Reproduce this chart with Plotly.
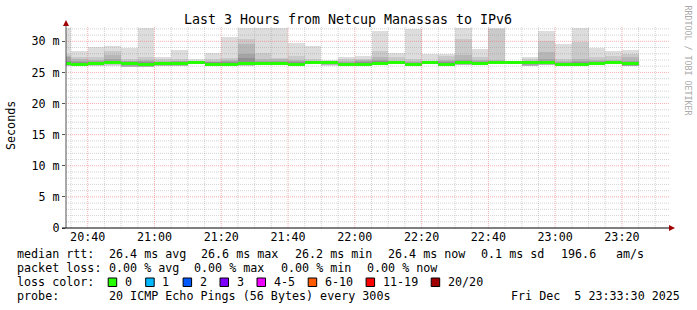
import pandas as pd
import plotly.graph_objects as go

# ---------------- data (ms) ----------------
bin_start = pd.date_range("2025-12-05 20:30:00", periods=35, freq="5min")

median = [26.50, 26.30, 26.40, 26.55, 26.45, 26.30, 26.40, 26.40, 26.60, 26.35,
          26.35, 26.40, 26.50, 26.50, 26.30, 26.55, 26.60, 26.30, 26.35, 26.50,
          26.55, 26.30, 26.55, 26.30, 26.55, 26.45, 26.60, 26.60, 26.55, 26.55,
          26.30, 26.35, 26.45, 26.60, 26.45]
# upper smoke bounds (sorted pings, highest first)
p20 = [32.20, 28.50, 29.10, 29.20, 28.90, 32.10, 27.40, 28.60, 27.20, 28.10,
       30.70, 32.10, 32.10, 32.10, 29.80, 29.30, 27.00, 27.50, 27.65, 31.60,
       28.20, 31.90, 28.00, 28.00, 32.10, 28.70, 32.10, 26.90, 27.55, 31.65,
       29.50, 32.10, 28.90, 28.50, 28.60]
p19 = [28.00, 27.40, 27.40, 28.50, 27.10, 27.40, 27.10, 27.10, 26.90, 27.10,
       27.30, 30.30, 28.10, 27.35, 27.70, 27.20, 26.85, 27.10, 27.20, 28.50,
       27.40, 27.10, 26.90, 27.70, 30.30, 27.40, 32.00, 26.80, 27.20, 30.10,
       27.10, 29.95, 27.40, 27.60, 28.00]
p18 = [27.60, 27.10, 27.00, 27.80, 26.90, 27.00, 26.90, 26.90, 26.80, 26.90,
       27.00, 29.60, 27.20, 27.10, 27.00, 26.90, 26.80, 26.90, 27.00, 27.40,
       26.90, 26.90, 26.80, 27.00, 27.80, 27.00, 27.00, 26.75, 26.90, 28.30,
       26.90, 27.10, 27.00, 27.00, 27.40]
p17 = [27.40, 26.90, 26.90, 27.20, 26.80, 26.90, 26.70, 26.80, 26.75, 26.70,
       26.80, 27.90, 26.90, 26.90, 26.80, 26.80, 26.75, 26.70, 26.80, 27.00,
       26.75, 26.70, 26.75, 26.80, 27.00, 26.80, 26.90, 26.70, 26.80, 27.20,
       26.70, 26.90, 26.80, 26.85, 26.90]
p16 = [26.90, 26.60, 26.70, 26.90, 26.60, 26.60, 26.60, 26.60, 26.70, 26.60,
       26.60, 27.30, 26.70, 26.70, 26.60, 26.70, 26.70, 26.50, 26.60, 26.80,
       26.70, 26.50, 26.70, 26.60, 26.80, 26.70, 26.80, 26.65, 26.70, 26.80,
       26.50, 26.60, 26.65, 26.75, 26.70]
# lower smoke bounds (lowest last)
p5 = [26.30, 26.20, 26.30, 26.40, 26.20, 26.10, 26.20, 26.20, 26.50, 26.20,
      26.20, 26.30, 26.30, 26.30, 26.20, 26.40, 26.40, 26.15, 26.15, 26.30,
      26.40, 26.15, 26.40, 26.15, 26.40, 26.30, 26.45, 26.50, 26.30, 26.40,
      26.15, 26.20, 26.30, 26.45, 26.20]
p4 = [26.20, 26.10, 26.20, 26.30, 26.00, 26.00, 26.15, 26.15, 26.40, 26.10,
      26.15, 26.20, 26.25, 26.25, 26.10, 26.35, 26.30, 26.10, 26.10, 26.25,
      26.35, 26.10, 26.35, 26.10, 26.30, 26.25, 26.40, 26.45, 26.20, 26.30,
      26.10, 26.15, 26.25, 26.40, 26.10]
p3 = [26.10, 26.10, 26.20, 26.30, 25.95, 25.95, 26.10, 26.10, 26.40, 26.10,
      26.10, 26.20, 26.20, 26.20, 26.05, 26.30, 26.20, 26.05, 26.10, 26.20,
      26.30, 26.05, 26.30, 26.05, 26.25, 26.20, 26.35, 26.40, 26.10, 26.25,
      26.05, 26.10, 26.20, 26.35, 26.05]
p2 = [26.10, 26.00, 26.10, 26.20, 25.90, 25.90, 26.10, 26.10, 26.30, 26.10,
      26.10, 26.10, 26.20, 26.20, 26.00, 26.30, 26.15, 26.00, 26.10, 26.20,
      26.30, 26.00, 26.30, 26.00, 26.20, 26.20, 26.30, 26.40, 26.00, 26.20,
      26.00, 26.10, 26.20, 26.30, 26.00]
p1 = [26.00, 26.00, 26.10, 26.10, 25.90, 25.90, 26.10, 26.10, 26.30, 26.10,
      26.10, 26.10, 26.20, 26.20, 26.00, 26.30, 26.10, 26.00, 26.10, 26.20,
      26.30, 26.00, 26.30, 26.00, 26.20, 26.20, 26.30, 26.40, 26.00, 26.20,
      26.00, 26.10, 26.20, 26.30, 26.00]

y_tick_vals = [0, 5, 10, 15, 20, 25, 30]
y_tick_text = ["0", "5 m", "10 m", "15 m", "20 m", "25 m", "30 m"]

loss_labels = ["0", "1", "2", "3", "4-5", "6-10", "11-19", "20/20"]
loss_colors = ["#26ff00", "#00b8ff", "#0059ff", "#7e00ff", "#ee00ff",
               "#ff5a00", "#ff0000", "#a10000"]

stats_rtt = ["median rtt:", "26.4 ms avg", "26.6 ms max", "26.2 ms min",
             "26.4 ms now", "0.1 ms sd", "196.6", "am/s"]
stats_loss = ["packet loss:", "0.00 % avg", "0.00 % max", "0.00 % min", "0.00 % now"]
probe_text = "20 ICMP Echo Pings (56 Bytes) every 300s"
date_text = "Fri Dec  5 23:33:30 2025"
title_text = "Last 3 Hours from Netcup Manassas to IPv6"

# ---------------- layout geometry ----------------
W, H = 697, 310
L, R, T, B = 66, 30, 27, 82
PW, PH = W - L - R, H - T - B
MONO = "DejaVu Sans Mono"
FS = 11.7
MAJOR_GRID = "rgba(240,110,110,0.55)"
MINOR_GRID = "rgba(150,150,150,0.42)"


def fx(px):
    return (px - L) / PW


def fy(py):
    return (H - B - py) / PH


x_start = pd.Timestamp("2025-12-05 20:33:30")
x_end = pd.Timestamp("2025-12-05 23:33:30")
centers = bin_start + pd.Timedelta(seconds=150)
width_ms = 300000

fig = go.Figure()
smoke_layers = [(p1, p20, "#dddddd"), (p2, p19, "#cacaca"), (p3, p18, "#b7b7b7"),
                (p4, p17, "#a4a4a4"), (p5, p16, "#919191")]
for lo, hi, col in smoke_layers:
    fig.add_trace(go.Bar(x=centers, base=lo, y=[h - l for h, l in zip(hi, lo)],
                         width=width_ms, marker=dict(color=col, line=dict(width=0)),
                         showlegend=False, hoverinfo="skip"))
band = 0.24
fig.add_trace(go.Bar(x=centers, base=[m - band for m in median], y=[2 * band] * len(median),
                     width=width_ms, marker=dict(color=loss_colors[0], line=dict(width=0)),
                     showlegend=False, hoverinfo="skip"))

shapes = []
# grid above the smoke, like rrdtool
t = pd.Timestamp("2025-12-05 20:35:00")
while t < x_end:
    major = (t.minute % 20 == 0)
    shapes.append(dict(type="line", xref="x", yref="paper", x0=t, x1=t, y0=0, y1=1,
                       layer="above",
                       line=dict(color=MAJOR_GRID if major else MINOR_GRID,
                                 width=1, dash="1px,1px")))
    t += pd.Timedelta(minutes=5)
for v in range(1, 33):
    major = (v % 5 == 0)
    shapes.append(dict(type="line", xref="paper", yref="y", x0=0, x1=1.004, y0=v, y1=v,
                       layer="above",
                       line=dict(color=MAJOR_GRID if major else MINOR_GRID,
                                 width=1, dash="1px,1px")))
# axes with arrows
shapes.append(dict(type="line", xref="paper", yref="paper", x0=fx(66), x1=fx(66),
                   y0=fy(228), y1=fy(24), line=dict(color="#555555", width=1), layer="above"))
shapes.append(dict(type="line", xref="paper", yref="paper", x0=fx(62), x1=fx(670),
                   y0=fy(228), y1=fy(228), line=dict(color="#000000", width=1), layer="above"))
shapes.append(dict(type="path", xref="paper", yref="paper",
                   path=f"M {fx(63)} {fy(26)} L {fx(69)} {fy(26)} L {fx(66)} {fy(20)} Z",
                   fillcolor="#a00000", line=dict(width=0), layer="above"))
shapes.append(dict(type="path", xref="paper", yref="paper",
                   path=f"M {fx(669)} {fy(225)} L {fx(669)} {fy(231)} L {fx(675)} {fy(228)} Z",
                   fillcolor="#a00000", line=dict(width=0), layer="above"))

annotations = []


def txt(s, px, py, anchor="left", size=FS, color="#000000", angle=0):
    annotations.append(dict(text=s, x=fx(px), y=fy(py), xref="paper", yref="paper",
                            xanchor=anchor, yanchor="middle", showarrow=False,
                            borderpad=0, textangle=angle,
                            font=dict(family=MONO, size=size, color=color)))


rtt_x = [16, 107.8, 200.4, 293.5, 386.6, 480, 559.5, 615]
for s, px in zip(stats_rtt, rtt_x):
    txt(s.replace(" ", "&nbsp;"), px, 254)
loss_x = [16, 107.8, 193.3, 279.7, 365.7]
for s, px in zip(stats_loss, loss_x):
    txt(s.replace(" ", "&nbsp;"), px, 268)
txt("loss&nbsp;color:", 16, 282)
box_x = [108.2, 145.7, 183.1, 220.0, 257.0, 308.2, 366.1, 431.2]
for lab, col, bx in zip(loss_labels, loss_colors, box_x):
    shapes.append(dict(type="rect", xref="paper", yref="paper",
                       x0=fx(bx), x1=fx(bx + 8.5), y0=fy(286.5), y1=fy(278),
                       fillcolor=col, line=dict(color="#000000", width=1)))
    txt(lab, bx + 15.5, 282)
txt("probe:", 16, 296)
txt(probe_text.replace(" ", "&nbsp;"), 107.8, 296)
txt(date_text.replace(" ", "&nbsp;"), 681, 296, anchor="right")
txt("Seconds", 11, 126, anchor="center", angle=-90)
txt("RRDTOOL&nbsp;/&nbsp;TOBI&nbsp;OETIKER", 687.5, 60, anchor="center", size=8.3,
    color="#aaaaaa", angle=90)

fig.update_layout(
    width=W, height=H, margin=dict(l=L, r=R, t=T, b=B),
    paper_bgcolor="#ffffff", plot_bgcolor="#ffffff",
    barmode="overlay", bargap=0, bargroupgap=0,
    title=dict(text=title_text, x=348 / W, xref="container", xanchor="center",
               y=1 - 19 / H, yref="container", yanchor="middle",
               font=dict(family=MONO, size=13.3, color="#000000")),
    shapes=shapes, annotations=annotations, showlegend=False,
)
fig.update_xaxes(type="date", range=[x_start, x_end], showgrid=False, zeroline=False,
                 showline=False, tickformat="%H:%M", dtick=1200000,
                 tick0="2025-12-05 20:00:00", ticks="", ticklabelstandoff=0,
                 tickfont=dict(family=MONO, size=FS, color="#000000"))
fig.update_yaxes(range=[0, 32.3], showgrid=False, zeroline=False, showline=False,
                 tickvals=y_tick_vals, ticktext=y_tick_text, ticks="outside",
                 ticklen=3, tickcolor="#555555",
                 tickfont=dict(family=MONO, size=FS, color="#000000"))

fig.write_html("out.html")
